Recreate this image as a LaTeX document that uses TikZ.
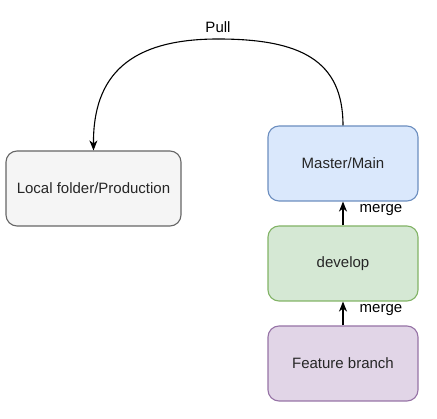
\documentclass[tikz,border=0pt]{standalone}
\usepackage{fontspec}
\setmainfont{Liberation Sans}
\usetikzlibrary{arrows.meta}
\definecolor{bfill}{HTML}{DAE8FC}\definecolor{bdraw}{HTML}{6C8EBF}
\definecolor{gfill}{HTML}{D5E8D4}\definecolor{gdraw}{HTML}{82B366}
\definecolor{pfill}{HTML}{E1D5E7}\definecolor{pdraw}{HTML}{9673A6}
\definecolor{kfill}{HTML}{F5F5F5}\definecolor{kdraw}{HTML}{666666}
\begin{document}
\begin{tikzpicture}[x=1pt,y=-1pt,
  box/.style={rounded corners=11pt, line width=1.1pt, minimum width=150pt, minimum height=75pt, inner sep=0pt, font=\fontsize{15}{18}\selectfont, text=black!85},
  conn/.style={line width=1.1pt, -{Stealth[length=10pt,width=8pt,inset=3pt]}},
  lbl/.style={font=\fontsize{15}{18}\selectfont}]
\useasboundingbox (0,0) rectangle (437,419);
\node[box, fill=kfill, draw=kdraw, minimum width=175pt] (local) at (93.5,188.5) {Local folder/Production};
\node[box, fill=bfill, draw=bdraw] (master) at (343,163.5) {Master/Main};
\node[box, fill=gfill, draw=gdraw] (dev) at (343,263.5) {develop};
\node[box, fill=pfill, draw=pdraw] (feat) at (343,363.5) {Feature branch};
\coordinate (top) at (218,39);
\draw[line width=1.1pt] (master.north) .. controls (343,60) and (300,39) .. (top);
\draw[conn] (top) .. controls (130,39) and (93,75) .. (local.north);
\node[lbl] (pull) at (218,27) {Pull};
\draw[conn] (dev.north) -- (master.south);
\draw[conn] (feat.north) -- (dev.south);
\node[lbl] (m1) at (381,210.5) {merge};
\node[lbl] (m2) at (381,310.5) {merge};
\end{tikzpicture}
\end{document}
